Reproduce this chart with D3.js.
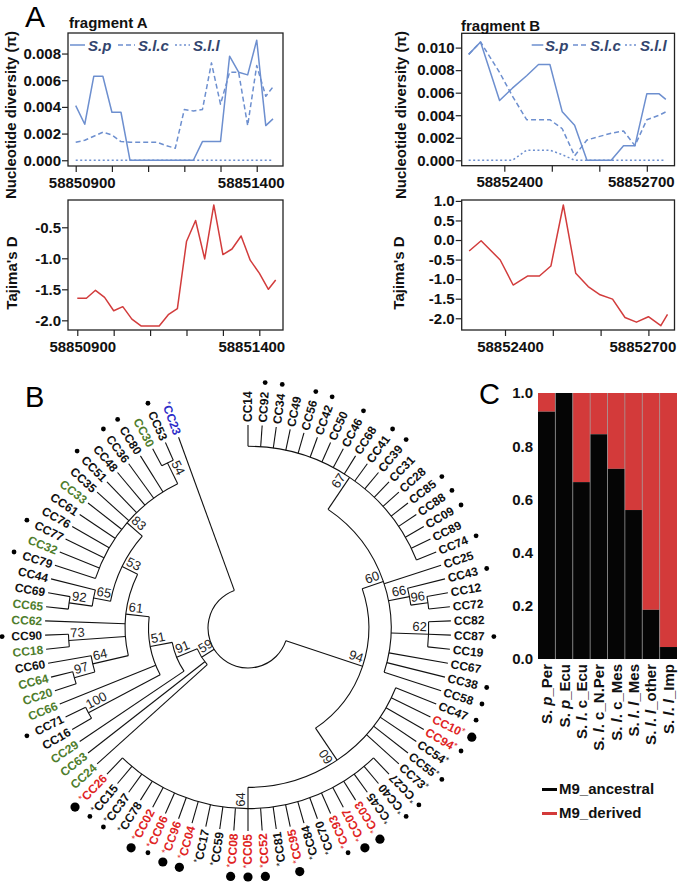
<!DOCTYPE html>
<html><head><meta charset="utf-8">
<script src="https://cdn.jsdelivr.net/npm/d3@7"></script>
<style>body{margin:0;background:#fff} svg text{font-family:"Liberation Sans",Arial,Helvetica,sans-serif}</style>
</head><body><svg id="c" width="680" height="888"></svg>
<script>
// ================= DATA =================
// Panel A, fragment A (window positions, bp)
const fragA_pos=[58850900,58850925,58850950,58850975,58851000,58851025,58851050,58851075,58851100,58851125,58851150,58851175,58851200,58851225,58851250,58851275,58851300,58851325,58851350,58851375,58851400,58851425,58851445];
const fragA_Sp =[0.0041,0.0027,0.0063,0.0063,0.0036,0.0036,0,0,0,0,0,0,0,0,0.0014,0.0014,0.0014,0.0078,0.0066,0.0064,0.0090,0.0026,0.0031];
const fragA_Slc=[0.00135,0.0015,0.0018,0.0021,0.0019,0.0014,0.00135,0.00135,0.00135,0.00135,0.0011,0.0009,0.0038,0.0037,0.0038,0.0073,0.0042,0.0066,0.0066,0.0026,0.0071,0.0048,0.0055];
const fragA_Sll=[0,0,0,0,0,0,0,0,0,0,0,0,0,0,0,0,0,0,0,0,0,0,0];
const fragA_D  =[-1.645,-1.645,-1.516,-1.63,-1.845,-1.78,-1.98,-2.09,-2.09,-2.09,-1.91,-1.81,-0.73,-0.39,-1.01,-0.14,-0.94,-0.85,-0.64,-1.03,-1.24,-1.50,-1.35];
const fragA_xTicks=[58850900,58851000,58851100,58851200,58851300,58851400];
const fragA_xLabeled=[58850900,58851400];
const fragA_piTicks=[0,0.002,0.004,0.006,0.008];
const fragA_dTicks=[-2,-1.5,-1,-0.5];
// Panel A, fragment B
const fragB_pos=[58852325,58852350,58852390,58852417,58852447,58852472,58852496,58852522,58852548,58852574,58852599,58852625,58852651,58852675,58852700,58852726,58852740];
const fragB_Sp =[0.0094,0.0105,0.0053,0.0064,0.0075,0.0085,0.0085,0.0043,0.0031,0,0,0,0.0013,0.0013,0.0059,0.0059,0.0054];
const fragB_Slc=[0.0094,0.0105,0.0078,0.0057,0.0036,0.0036,0.0036,0.0028,0.0004,0.0018,0.0021,0.0024,0.0026,0.0013,0.0036,0.0040,0.0043];
const fragB_Sll=[0,0,0,0,0.0009,0.0009,0.0009,0.0005,0,0,0,0,0,0,0,0,0];
const fragB_D  =[-0.28,-0.02,-0.51,-1.15,-0.92,-0.92,-0.665,0.895,-0.85,-1.19,-1.40,-1.51,-1.98,-2.10,-1.96,-2.19,-1.90];
const fragB_xTicks=[58852400,58852500,58852600,58852700];
const fragB_xLabeled=[58852400,58852700];
const fragB_piTicks=[0,0.002,0.004,0.006,0.008,0.010];
const fragB_dTicks=[-2,-1.5,-1,-0.5,0,0.5,1];
const seriesNames=["S.p","S.l.c","S.l.l"];

// Panel B: tree (support value, node depth as fraction of leaf depth, children in leaf order)
function N(s,d,c){return {support:s,depth:d,children:c};}
const tree=N(null,0.197,[
 "CC23",
 N(59,0.27,[
  N(91,0.38,[
   N(51,0.49,[
    N(61,0.605,[
     N(53,0.69,[
      N(83,0.79,[N(54,0.905,["CC53","CC30"]),"CC80","CC36","CC48","CC51","CC35","CC33","CC61","CC76","CC77","CC32","CC79"]),
      N(65,0.775,["CC44",N(92,0.89,["CC69","CC65"])])
     ]),
     "CC62",
     N(73,0.885,["CC90","CC18"]),
     N(64,0.785,["CC60",N(97,0.89,["CC64","CC20"])])
    ]),
    "CC66",
    N(100,0.89,["CC71","CC16"])
   ]),
   "CC29"
  ]),
  "CC63","CC24"
 ]),
 N(94,0.595,[
  N(60,0.785,[
   N(64,0.89,["CC26","CC15","CC37","CC78","CC02","CC06","CC96","CC04","CC17","CC59","CC08","CC05","CC52","CC81","CC95","CC84","CC70","CC93","CC07","CC03","CC45","CC40","CC27"]),
   "CC73","CC55","CC54","CC94","CC10","CC47"
  ]),
  N(60,0.705,[
   "CC58","CC38","CC67",
   N(62,0.89,["CC19","CC87","CC82"]),
   N(66,0.81,[N(96,0.895,["CC72","CC12"]),"CC43"]),
   "CC25",
   N(67,0.895,["CC74","CC89","CC09","CC88","CC85","CC28","CC31","CC39","CC41","CC68","CC46","CC50","CC42","CC56","CC49","CC34","CC92","CC14"])
  ])
 ])
]);
const greenLeaves=["CC30","CC33","CC32","CC65","CC62","CC18","CC64","CC20","CC66","CC29","CC63","CC24"];
const redLeaves=["CC26","CC02","CC06","CC96","CC04","CC08","CC05","CC52","CC95","CC93","CC07","CC03","CC10","CC94"];
const blueLeaves=["CC23"];
const starLeaves=["CC23","CC26","CC15","CC37","CC78","CC02","CC06","CC96","CC04","CC17","CC59","CC08","CC05","CC52","CC81","CC95","CC84","CC70","CC93","CC07","CC03","CC45","CC40","CC27","CC73","CC55","CC54","CC94","CC10"];
const bigDots=["CC26","CC02","CC96","CC04","CC08","CC05","CC52","CC95","CC07","CC03","CC10"];
const smallDots=["CC53","CC80","CC36","CC51","CC77","CC79","CC90","CC71","CC15","CC37","CC06","CC93","CC40","CC27","CC55","CC94","CC47","CC58","CC38","CC87","CC43","CC74","CC09","CC88","CC85","CC39","CC41","CC46","CC42","CC56","CC34","CC92"];

// Panel C
const cCats=["S. p_Per","S. p_Ecu","S. l. c_Ecu","S. l. c_N.Per","S. l. c_Mes","S. l. l_Mes","S. l. l_other","S. l. l_Imp"];
const cAncestral=[0.93,1.0,0.665,0.845,0.715,0.56,0.185,0.045];
const cTicks=[0,0.2,0.4,0.6,0.8,1.0];
const cLegend=["M9_ancestral","M9_derived"];

// ================= DRAW =================
const svg=d3.select("#c");
const FONT='"Liberation Sans",Arial,Helvetica,sans-serif';
const LBLUE="#6d8fcf", LRED="#d23c3c", LEGTXT="#33456e";

function lineChart(o){
  const g=svg.append("g");
  const x=d3.scaleLinear().domain(o.xDomain).range([o.left,o.right]);
  const y=d3.scaleLinear().domain(o.yDomain).range([o.bottom,o.top]);
  const xa=g.append("g").attr("transform",`translate(0,${o.bottom})`)
    .call(d3.axisBottom(x).tickValues(o.xTicks).tickSize(6).tickPadding(5).tickFormat(d=>o.xLabeled.includes(d)?String(d):""));
  const ya=g.append("g").attr("transform",`translate(${o.left},0)`)
    .call(d3.axisLeft(y).tickValues(o.yTicks).tickSize(6).tickPadding(1).tickFormat(d=>d.toFixed(o.dec)));
  [xa,ya].forEach(a=>{
    a.select(".domain").remove();
    a.selectAll("line").attr("stroke","#222").attr("stroke-width",1.2);
    a.selectAll("text").attr("font-size",15).attr("font-weight","bold").attr("fill","#111").attr("font-family",FONT);
  });
  // labels nudged inward like the original
  xa.selectAll(".tick text").attr("dx",d=>d===o.xLabeled[0]?o.nudge[0]:(d===o.xLabeled[1]?o.nudge[1]:0));
  o.series.forEach(s=>{
    g.append("path").datum(s.vals).attr("fill","none").attr("stroke",s.color).attr("stroke-width",1.5)
      .attr("stroke-dasharray",s.dash||null).attr("stroke-linejoin","round")
      .attr("d",d3.line().x((d,i)=>x(o.pos[i])).y(d=>y(d)));
  });
  g.append("rect").attr("x",o.left).attr("y",o.top).attr("width",o.right-o.left).attr("height",o.bottom-o.top)
    .attr("fill","none").attr("stroke","#222").attr("stroke-width",1.3);
  return g;
}
function yTitle(txt,x,y){
  svg.append("text").attr("transform",`translate(${x},${y}) rotate(-90)`).attr("text-anchor","middle")
    .attr("font-size",15).attr("font-weight","bold").attr("fill","#111").text(txt);
}
function piLegend(items,y){
  items.forEach((it,i)=>{
    svg.append("line").attr("x1",it[0]).attr("x2",it[1]).attr("y1",y).attr("y2",y).attr("stroke",LBLUE)
      .attr("stroke-width",1.5).attr("stroke-dasharray",[null,"5,3","2,2.5"][i]);
    svg.append("text").attr("x",it[2]).attr("y",y+5.5).attr("font-size",15).attr("font-weight","bold")
      .attr("font-style","italic").attr("fill",LEGTXT).text(seriesNames[i]);
  });
}
const piSeries=(a,b,c)=>[{vals:a,color:LBLUE},{vals:b,color:LBLUE,dash:"5,3"},{vals:c,color:LBLUE,dash:"2,2.5"}];

// Panel letters
svg.append("text").attr("x",25).attr("y",27).attr("font-size",30).attr("fill","#000").text("A");
svg.append("text").attr("x",25).attr("y",407).attr("font-size",29).attr("fill","#000").text("B");
svg.append("text").attr("x",479).attr("y",404).attr("font-size",29).attr("fill","#000").text("C");

// Fragment A
lineChart({left:68,right:283,top:33,bottom:166,xDomain:[58850878.7,58851472.6],yDomain:[-0.00043,0.00954],
  xTicks:fragA_xTicks,xLabeled:fragA_xLabeled,nudge:[6,-6],yTicks:fragA_piTicks,dec:3,pos:fragA_pos,
  series:piSeries(fragA_Sp,fragA_Slc,fragA_Sll)});
lineChart({left:68,right:283,top:200,bottom:330,xDomain:[58850874.5,58851465.1],yDomain:[-2.156,-0.06],
  xTicks:fragA_xTicks,xLabeled:fragA_xLabeled,nudge:[5,-8],yTicks:fragA_dTicks,dec:1,pos:fragA_pos,
  series:[{vals:fragA_D,color:LRED}]});
svg.append("text").attr("x",69).attr("y",28).attr("font-size",15).attr("font-weight","bold").attr("fill","#111").text("fragment A");
piLegend([[70,85,88],[118,135,138],[175,190,193]],45);
yTitle("Nucleotide diversity (π)",16,115);
yTitle("Tajima's D",17,273);

// Fragment B
lineChart({left:461.7,right:674.5,top:33.3,bottom:165.7,xDomain:[58852310.3,58852758.3],yDomain:[-0.00048,0.01127],
  xTicks:fragB_xTicks,xLabeled:fragB_xLabeled,nudge:[5,-6],yTicks:fragB_piTicks,dec:3,pos:fragB_pos,
  series:piSeries(fragB_Sp,fragB_Slc,fragB_Sll)});
lineChart({left:461.7,right:674.5,top:200,bottom:330,xDomain:[58852309.4,58852754.6],yDomain:[-2.30,1.023],
  xTicks:fragB_xTicks,xLabeled:fragB_xLabeled,nudge:[5,-6],yTicks:fragB_dTicks,dec:1,pos:fragB_pos,
  series:[{vals:fragB_D,color:LRED}]});
svg.append("text").attr("x",461).attr("y",31).attr("font-size",15).attr("font-weight","bold").attr("fill","#111").text("fragment B");
piLegend([[531.7,543.3,545],[573,588,590],[625,638,640]],45);
yTitle("Nucleotide diversity (π)",406,115);
yTitle("Tajima's D",404,273);

// ---------- Panel B: circular tree ----------
const cx=248, cy=628, R=203;
const rS=d3.scaleLinear().domain([0,1]).range([0,R]);
const root=d3.hierarchy(tree,d=>d.children?d.children.map(c=>typeof c==="string"?{name:c}:c):null);
const leaves=root.leaves();
const aS=d3.scaleLinear().domain([0,leaves.length-1]).range([340,0]);
leaves.forEach((l,i)=>{l.ang=aS(i);l.r=R;});
root.eachAfter(n=>{ if(n.children){ n.ang=(n.children[0].ang+n.children[n.children.length-1].ang)/2; n.r=rS(n.data.depth);} });
const P=(a,r)=>{const t=a*Math.PI/180;return [cx+r*Math.sin(t),cy-r*Math.cos(t)];};
const gT=svg.append("g").attr("fill","none").attr("stroke","#111").attr("stroke-width",1.1);
root.each(n=>{
  if(n.children){
    const a1=n.children[0].ang,a2=n.children[n.children.length-1].ang;
    const p1=P(a1,n.r),p2=P(a2,n.r);
    gT.append("path").attr("d",`M${p1[0]},${p1[1]}A${n.r},${n.r} 0 ${(a1-a2)>180?1:0} 0 ${p2[0]},${p2[1]}`);
  }
  if(n.parent){
    const p1=P(n.ang,n.parent.r),p2=P(n.ang,n.r);
    gT.append("line").attr("x1",p1[0]).attr("y1",p1[1]).attr("x2",p2[0]).attr("y2",p2[1]);
  }
});
const isFlip=a=>a>134&&a<350;
// support values
root.descendants().filter(n=>n.data.support!=null).forEach(n=>{
  const f=isFlip(n.ang), p=P(n.ang,n.r-2);
  svg.append("text").attr("transform",`translate(${p[0]},${p[1]}) rotate(${f?n.ang+90:n.ang-90})`)
    .attr("text-anchor",f?"start":"end").attr("y",-3).attr("font-size",13).attr("fill","#222").text(n.data.support);
});
// leaf labels
const colorOf=nm=>greenLeaves.includes(nm)?"#4e7d2c":redLeaves.includes(nm)?"#e02424":blueLeaves.includes(nm)?"#2b2bc8":"#111";
leaves.forEach(l=>{
  const nm=l.data.name,f=isFlip(l.ang),p=P(l.ang,R+3),st=starLeaves.includes(nm);
  const t=svg.append("text").attr("transform",`translate(${p[0]},${p[1]}) rotate(${f?l.ang+90:l.ang-90})`)
    .attr("text-anchor",f?"end":"start").attr("y",4.3).attr("font-size",12).attr("font-weight","bold").attr("fill",colorOf(nm));
  if(st&&f){t.append("tspan").attr("font-size",9).attr("font-weight","normal").attr("dy",-3).text("*");t.append("tspan").attr("dy",3).text(nm);}
  else if(st){t.append("tspan").text(nm);t.append("tspan").attr("font-size",9).attr("font-weight","normal").attr("dy",-3).text("*");}
  else t.text(nm);
  if(bigDots.includes(nm)||smallDots.includes(nm)){
    const big=bigDots.includes(nm),q=P(l.ang,big?249:246);
    svg.append("circle").attr("cx",q[0]).attr("cy",q[1]).attr("r",big?4.6:2.4).attr("fill","#000");
  }
});

// ---------- Panel C ----------
const xC=d3.scaleBand().domain(cCats).range([538,677]);
const yC=d3.scaleLinear().domain([0,1]).range([659,393]);
const gC=svg.append("g");
cCats.forEach((c,i)=>{
  gC.append("rect").attr("x",xC(c)).attr("y",yC(1)).attr("width",xC.bandwidth()).attr("height",yC(cAncestral[i])-yC(1)).attr("fill","#d33a3a");
  gC.append("rect").attr("x",xC(c)).attr("y",yC(cAncestral[i])).attr("width",xC.bandwidth()).attr("height",yC(0)-yC(cAncestral[i])).attr("fill","#050505");
});
cCats.slice(1).forEach(c=>gC.append("line").attr("x1",xC(c)).attr("x2",xC(c)).attr("y1",yC(1)).attr("y2",yC(0)).attr("stroke","#9a9a9a").attr("stroke-width",0.7));
const ca=gC.append("g").attr("transform","translate(538,0)").call(d3.axisLeft(yC).tickValues(cTicks).tickSize(0).tickPadding(5).tickFormat(d=>d.toFixed(1)));
ca.select(".domain").remove();
ca.selectAll("text").attr("font-size",15).attr("font-weight","bold").attr("fill","#111").attr("font-family",FONT);
cCats.forEach(c=>{
  const t=gC.append("text").attr("transform",`translate(${xC(c)+xC.bandwidth()/2+5.5},664) rotate(-90)`)
    .attr("text-anchor","end").attr("font-size",15).attr("font-weight","bold").attr("fill","#111");
  c.split(/(?<=\s)([pl])(?=[._])/).forEach((s,k)=>{ if(s) t.append("tspan").attr("font-style",k%2?"italic":"normal").text(s); });
});
cLegend.forEach((lab,i)=>{
  const y=788+i*24;
  gC.append("rect").attr("x",542).attr("y",y).attr("width",15).attr("height",3).attr("fill",i?"#d33a3a":"#050505");
  gC.append("text").attr("x",559).attr("y",y+5.5).attr("font-size",15).attr("font-weight","bold").attr("fill","#111").text(lab);
});
</script></body></html>
